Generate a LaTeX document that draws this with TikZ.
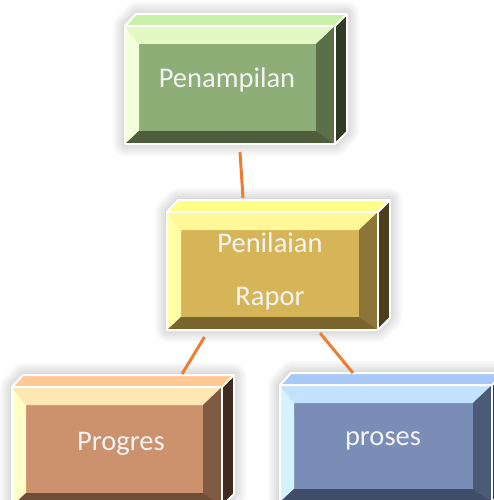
\documentclass[tikz,border=0pt]{standalone}
\usepackage{fontspec}
\setmainfont{Carlito}
\usetikzlibrary{calc}
% colours
\definecolor{gtop}{HTML}{C8F0A8}\definecolor{gtb}{HTML}{E2F9C4}\definecolor{glb}{HTML}{F2FFDA}
\definecolor{gmid}{HTML}{8DAE76}\definecolor{grb}{HTML}{5B7049}\definecolor{gbb}{HTML}{4E5E3D}\definecolor{gside}{HTML}{2F3B24}
\definecolor{ytop}{HTML}{FFFF85}\definecolor{ytb}{HTML}{FFF798}\definecolor{ylb}{HTML}{FFFFA6}
\definecolor{ymid}{HTML}{D5B557}\definecolor{yrb}{HTML}{8B7538}\definecolor{ybb}{HTML}{7A652E}\definecolor{yside}{HTML}{4B3E1C}
\definecolor{otop}{HTML}{FFC895}\definecolor{otb}{HTML}{FFE7B3}\definecolor{olb}{HTML}{FFFDC8}
\definecolor{omid}{HTML}{CC916D}\definecolor{orb}{HTML}{7E5B42}\definecolor{obb}{HTML}{6E4E37}\definecolor{oside}{HTML}{3F2B22}
\definecolor{btop}{HTML}{A8C9F8}\definecolor{btb}{HTML}{C2E2FF}\definecolor{blb}{HTML}{D3F4FF}
\definecolor{bmid}{HTML}{7A8DB6}\definecolor{brb}{HTML}{4A5A77}\definecolor{bbb}{HTML}{404D68}\definecolor{bside}{HTML}{2E3850}
\definecolor{linkc}{HTML}{ED7D31}
\definecolor{txtc}{HTML}{F4F4F4}
\tikzset{
  front/.style={rectangle, inner sep=0pt, outer sep=0pt},
  edgeline/.style={white, line width=2pt, line join=round},
  halo/.style={draw=black, draw opacity=0.025, line join=round},
  link/.style={linkc, line width=3pt},
  lbl/.style={anchor=base, text=txtc, font=\fontsize{28.5}{30}\selectfont, inner sep=0pt}
}
% #1 name, #2 colour prefix, #3 x1, #4 y1, #5 x2, #6 y2
\newcommand\bevbox[6]{%
  \node[front, minimum width={#5pt-#3pt}, minimum height={#6pt-#4pt}] (#1) at ({(#3+#5)/2},{(#4+#6)/2}) {};
  \coordinate (#1iNW) at ($(#1.north west)+(14,18)$);
  \coordinate (#1iNE) at ($(#1.north east)+(-19,18)$);
  \coordinate (#1iSE) at ($(#1.south east)+(-19,-13)$);
  \coordinate (#1iSW) at ($(#1.south west)+(14,-13)$);
  \coordinate (#1tNW) at ($(#1.north west)+(11,-12)$);
  \coordinate (#1tNE) at ($(#1.north east)+(12,-12)$);
  \coordinate (#1tSE) at ($(#1.south east)+(12,-12)$);
  \foreach \w in {4,8,12,16,20,24}{
    \path[halo, line width=\w pt] (#1.north west) -- (#1tNW) -- (#1tNE) -- (#1tSE) -- (#1.south east) -- (#1.south west) -- cycle;
  }
  \fill[#2top] (#1.north west) -- (#1tNW) -- (#1tNE) -- (#1.north east) -- cycle;
  \fill[#2side] (#1.north east) -- (#1tNE) -- (#1tSE) -- (#1.south east) -- cycle;
  \fill[#2mid] (#1.north west) rectangle (#1.south east);
  \fill[#2tb] (#1.north west) -- (#1.north east) -- (#1iNE) -- (#1iNW) -- cycle;
  \fill[#2lb] (#1.north west) -- (#1iNW) -- (#1iSW) -- (#1.south west) -- cycle;
  \fill[#2rb] (#1.north east) -- (#1.south east) -- (#1iSE) -- (#1iNE) -- cycle;
  \fill[#2bb] (#1.south west) -- (#1iSW) -- (#1iSE) -- (#1.south east) -- cycle;
  \draw[edgeline] (#1.north west) -- (#1tNW) -- (#1tNE) -- (#1tSE) -- (#1.south east) -- (#1.south west) -- cycle;
  \draw[edgeline] (#1.north west) -- (#1.north east) -- (#1tNE);
  \draw[edgeline] (#1.north east) -- (#1.south east);
}
\begin{document}
\begin{tikzpicture}[x=1pt, y=-1pt]
\fill[white] (0,0) rectangle (494,500);
\useasboundingbox (0,0) rectangle (494,500);
\bevbox{p1}{g}{125}{26}{335}{144}
\bevbox{p2}{y}{167}{212}{378}{330}
\bevbox{p3}{o}{12}{387}{222}{506}
\bevbox{p4}{b}{280}{385}{492}{502}
\node[lbl] (t1) at (227,88) {Penampilan};
\node[lbl] (t2a) at (270,252) {Penilaian};
\node[lbl] (t2b) at (270,305) {Rapor};
\node[lbl] (t3) at (121,450) {Progres};
\node[lbl] (t4) at (383,445) {proses};
\draw[link] ($(p1.south)+(10,8)$) -- ($(p2.north)+(-29.5,-14)$);
\draw[link] ($(p2.south)+(-68,7)$) -- ($(p3.north)+(65,-13)$);
\draw[link] ($(p2.south)+(47.5,3)$) -- ($(p4.north)+(-33,-12)$);
\end{tikzpicture}
\end{document}
